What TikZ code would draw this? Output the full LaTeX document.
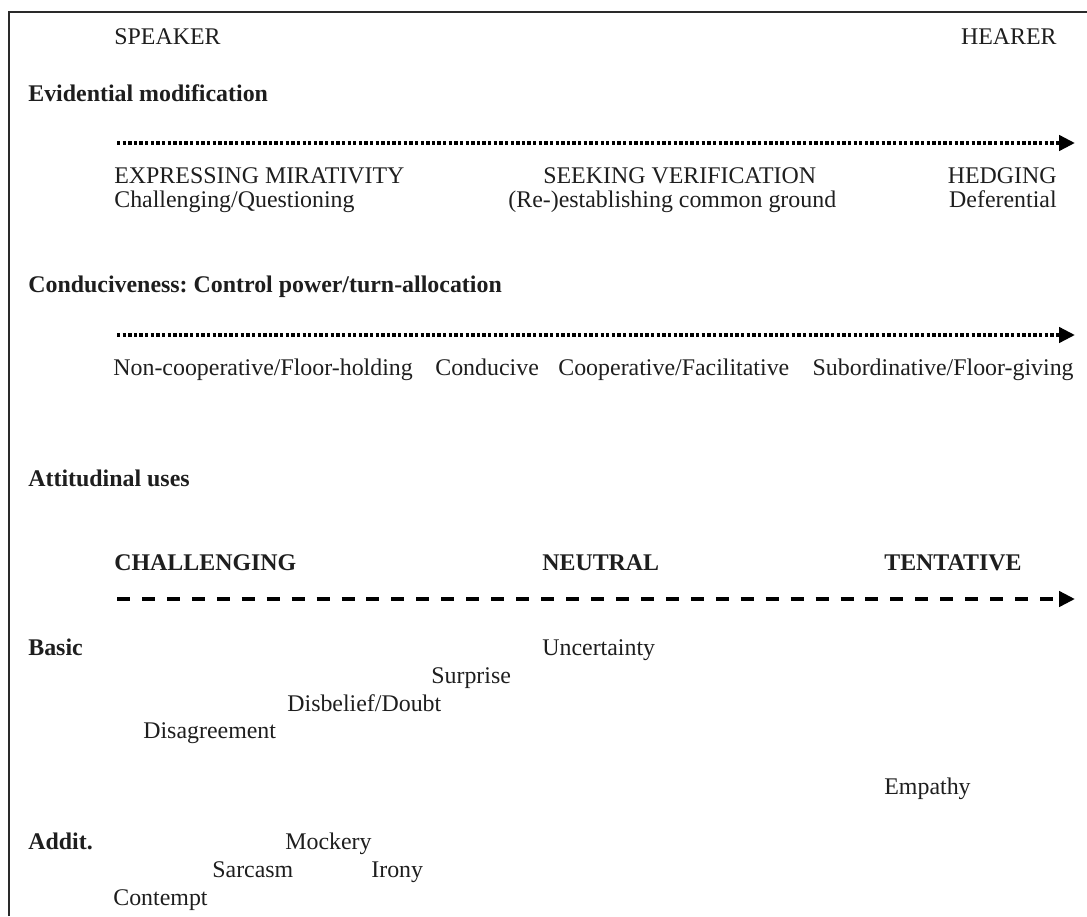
\documentclass[tikz,border=0pt]{standalone}
\usepackage{fontspec}
\setmainfont{Liberation Serif}
\usetikzlibrary{positioning,calc,arrows.meta}
\definecolor{txt}{HTML}{1E1E1E}
\definecolor{frm}{HTML}{2A2A2A}
\definecolor{arw}{HTML}{000000}
\frenchspacing

\begin{document}
\begin{tikzpicture}[x=0.02cm,y=-0.02cm,font=\fontsize{13.6}{16}\selectfont,text=txt,
  >={Triangle[length=9pt,width=8.5pt]},
  lb/.style={anchor=base west,inner sep=0pt},
  lbr/.style={anchor=base east,inner sep=0pt},
  hd/.style={lb,font=\fontsize{13.6}{16}\selectfont\bfseries},
  dots/.style={->,draw=arw,line width=2.3pt,dash pattern=on 1.9pt off 1.3pt},
  dsh/.style={->,draw=arw,line width=2.3pt,dash pattern=on 7.4pt off 6.8pt}]

\useasboundingbox (0,0) rectangle (1087,916);

% frame (cut off right and bottom)
\draw[frm,line width=1pt] (9,916) -- (9,12) -- (1087,12);

\node[lb] (spk) at (114,44) {SPEAKER};
\node[lbr] (hr) at (1057,44) {HEARER};

% evidential modification
\node[hd] (evid) at (28,101) {Evidential modification};
\coordinate (e1s) at (117,143);
\coordinate (e1e) at (1075,143);
\draw[dots] (e1s) -- (e1e);
\node[lb] (mir) at (114,183) {EXPRESSING MIRATIVITY};
\node[lb] (mir2) at (114,207) {Challenging/Questioning};
\node[lb] (ver) at (543,183) {SEEKING VERIFICATION};
\node[lb] (ver2) at (508,207) {(Re-)establishing common ground};
\node[lbr] (hdg) at (1057,183) {HEDGING};
\node[lbr] (hdg2) at (1057,207) {Deferential};

% conduciveness
\node[hd] (cond) at (28,292) {Conduciveness: Control power/turn-allocation};
\coordinate (e2s) at (117,335);
\coordinate (e2e) at (1075,335);
\draw[dots] (e2s) -- (e2e);
\node[lb] (nco) at (113,375) {Non-cooperative/Floor-holding};
\node[lb] (cdc) at (435,375) {Conducive};
\node[lb] (coo) at (558,375) {Cooperative/Facilitative};
\node[lbr] (sub) at (1074,375) {Subordinative/Floor-giving};

% attitudinal uses
\node[hd] (att) at (28,486) {Attitudinal uses};
\node[hd] (chl) at (114,570) {CHALLENGING};
\node[hd] (neu) at (542,570) {NEUTRAL};
\node[hd] (ten) at (884,570) {TENTATIVE};
\coordinate (e3s) at (117,599);
\coordinate (e3e) at (1075,599);
\draw[dsh] (e3s) -- (e3e);

\node[hd] (bas) at (28,655) {Basic};
\node[lb] (unc) at (542,655) {Uncertainty};
\node[lb] (sur) at (431,683) {Surprise};
\node[lb] (dis) at (287,711) {Disbelief/Doubt};
\node[lb] (dag) at (143,738) {Disagreement};
\node[lb] (emp) at (884,794) {Empathy};

\node[hd] (add) at (28,849) {Addit.};
\node[lb] (moc) at (285,849) {Mockery};
\node[lb] (sar) at (212,877) {Sarcasm};
\node[lb] (iro) at (371,877) {Irony};
\node[lb] (con) at (113,905) {Contempt};

\end{tikzpicture}
\end{document}
